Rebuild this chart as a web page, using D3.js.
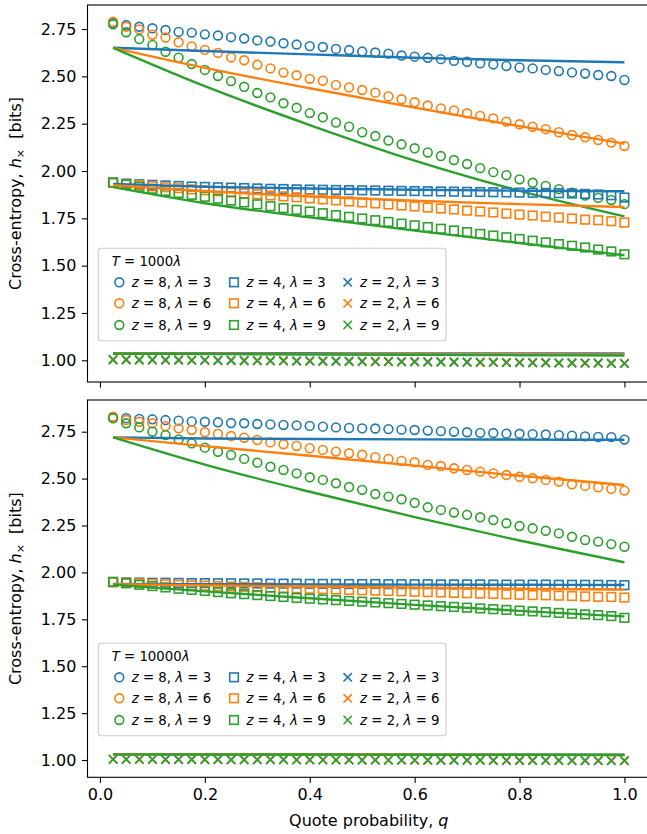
<!DOCTYPE html>
<html>
<head>
<meta charset="utf-8">
<script src="https://cdn.jsdelivr.net/npm/d3@7"></script>
<style>
body { margin: 0; background: #fff; }
text { font-family: "DejaVu Sans", sans-serif; fill: #000; }
</style>
</head>
<body>
<svg id="chart" width="647" height="834"></svg>
<script>
// quote probabilities of the simulated points
const q = [0.025, 0.05, 0.075, 0.1, 0.125, 0.15, 0.175, 0.2, 0.225, 0.25,
    0.275, 0.3, 0.325, 0.35, 0.375, 0.4, 0.425, 0.45, 0.475, 0.5,
    0.525, 0.55, 0.575, 0.6, 0.625, 0.65, 0.675, 0.7, 0.725, 0.75,
    0.775, 0.8, 0.825, 0.85, 0.875, 0.9, 0.925, 0.95, 0.975, 1.0];
// q where the theory curves were read
const lineQ = [0.025, 0.2, 0.4, 0.6, 0.8, 1.0];

const zValues = [8, 4, 2];
const lambdas = [3, 6, 9];
const colors = ['#1f77b4', '#ff7f0e', '#2ca02c'];
const xTicks = [0, 0.2, 0.4, 0.6, 0.8, 1.0];
const yTicks = [1.0, 1.25, 1.5, 1.75, 2.0, 2.25, 2.5, 2.75];

// ---- T = 1000 lambda ----
const t1000Z8 = [
    [2.781, 2.771, 2.762, 2.754, 2.745, 2.735, 2.731, 2.722, 2.716, 2.707, 2.700, 2.690, 2.684, 2.675, 2.668, 2.660, 2.655, 2.645, 2.639, 2.631,
     2.626, 2.620, 2.610, 2.604, 2.598, 2.591, 2.582, 2.577, 2.569, 2.563, 2.555, 2.547, 2.542, 2.534, 2.528, 2.521, 2.515, 2.507, 2.502, 2.481],
    [2.789, 2.762, 2.748, 2.720, 2.705, 2.680, 2.658, 2.640, 2.624, 2.600, 2.585, 2.561, 2.542, 2.520, 2.506, 2.487, 2.477, 2.455, 2.442, 2.428,
     2.414, 2.394, 2.379, 2.363, 2.346, 2.331, 2.320, 2.305, 2.291, 2.278, 2.261, 2.247, 2.234, 2.221, 2.205, 2.190, 2.178, 2.164, 2.150, 2.132],
    [2.775, 2.733, 2.697, 2.666, 2.630, 2.599, 2.565, 2.534, 2.502, 2.475, 2.445, 2.412, 2.389, 2.358, 2.334, 2.306, 2.284, 2.256, 2.234, 2.205,
     2.185, 2.161, 2.141, 2.120, 2.098, 2.079, 2.058, 2.037, 2.015, 1.994, 1.978, 1.956, 1.938, 1.921, 1.904, 1.886, 1.870, 1.858, 1.847, 1.825]
];
const t1000Z4 = [
    [1.938, 1.934, 1.930, 1.927, 1.924, 1.921, 1.918, 1.916, 1.914, 1.912, 1.910, 1.908, 1.906, 1.905, 1.903, 1.902, 1.901, 1.900, 1.899, 1.898,
     1.897, 1.896, 1.895, 1.894, 1.893, 1.892, 1.891, 1.890, 1.889, 1.888, 1.887, 1.886, 1.885, 1.884, 1.883, 1.881, 1.879, 1.876, 1.872, 1.860],
    [1.937, 1.930, 1.925, 1.919, 1.914, 1.909, 1.903, 1.898, 1.893, 1.887, 1.882, 1.877, 1.871, 1.866, 1.861, 1.855, 1.850, 1.845, 1.839, 1.834,
     1.829, 1.823, 1.818, 1.813, 1.807, 1.802, 1.797, 1.791, 1.786, 1.781, 1.775, 1.770, 1.765, 1.759, 1.754, 1.749, 1.743, 1.740, 1.735, 1.728],
    [1.940, 1.928, 1.917, 1.906, 1.895, 1.884, 1.874, 1.864, 1.854, 1.844, 1.834, 1.824, 1.814, 1.804, 1.795, 1.786, 1.777, 1.767, 1.758, 1.749,
     1.740, 1.731, 1.722, 1.713, 1.704, 1.695, 1.686, 1.677, 1.668, 1.659, 1.650, 1.641, 1.632, 1.623, 1.614, 1.605, 1.596, 1.585, 1.575, 1.560]
];
const t1000Z2 = [
    [1.005, 1.005, 1.004, 1.004, 1.003, 1.003, 1.002, 1.002, 1.001, 1.001, 1.000, 1.000, 0.999, 0.999, 0.998, 0.998, 0.997, 0.997, 0.996, 0.996,
     0.995, 0.995, 0.994, 0.994, 0.993, 0.993, 0.992, 0.992, 0.991, 0.991, 0.990, 0.990, 0.989, 0.989, 0.988, 0.988, 0.987, 0.987, 0.986, 0.985],
    [1.003, 1.003, 1.002, 1.002, 1.001, 1.001, 1.000, 1.000, 0.999, 0.999, 0.998, 0.998, 0.997, 0.997, 0.996, 0.996, 0.995, 0.995, 0.994, 0.994,
     0.993, 0.993, 0.992, 0.992, 0.991, 0.991, 0.990, 0.990, 0.989, 0.989, 0.988, 0.988, 0.987, 0.987, 0.986, 0.986, 0.985, 0.985, 0.984, 0.984],
    [1.002, 1.002, 1.001, 1.001, 1.000, 1.000, 0.999, 0.999, 0.998, 0.998, 0.997, 0.997, 0.996, 0.996, 0.995, 0.995, 0.994, 0.994, 0.993, 0.993,
     0.992, 0.992, 0.991, 0.991, 0.990, 0.990, 0.989, 0.989, 0.988, 0.988, 0.987, 0.987, 0.986, 0.986, 0.985, 0.985, 0.984, 0.984, 0.983, 0.983]
];
const t1000Z8Theory = [
    [2.651, 2.634, 2.616, 2.598, 2.585, 2.574],
    [2.651, 2.545, 2.437, 2.335, 2.237, 2.145],
    [2.651, 2.448, 2.243, 2.055, 1.895, 1.760]
];
const t1000Z4Theory = [
    [1.932, 1.917, 1.908, 1.901, 1.896, 1.893],
    [1.925, 1.893, 1.865, 1.843, 1.825, 1.810],
    [1.915, 1.830, 1.755, 1.685, 1.620, 1.555]
];
const t1000Z2Theory = [
    [1.037, 1.037, 1.037, 1.036, 1.036, 1.036],
    [1.036, 1.035, 1.034, 1.033, 1.032, 1.031],
    [1.035, 1.033, 1.031, 1.029, 1.027, 1.025]
];

// ---- T = 10000 lambda ----
const t10000Z8 = [
    [2.827, 2.822, 2.818, 2.816, 2.812, 2.809, 2.805, 2.803, 2.800, 2.796, 2.795, 2.791, 2.789, 2.786, 2.784, 2.781, 2.777, 2.773, 2.770, 2.768,
     2.767, 2.764, 2.761, 2.759, 2.756, 2.753, 2.750, 2.747, 2.744, 2.743, 2.740, 2.739, 2.737, 2.735, 2.732, 2.729, 2.725, 2.722, 2.721, 2.708],
    [2.830, 2.812, 2.803, 2.795, 2.780, 2.768, 2.759, 2.747, 2.738, 2.727, 2.718, 2.706, 2.693, 2.683, 2.674, 2.662, 2.653, 2.644, 2.635, 2.627,
     2.614, 2.605, 2.594, 2.587, 2.573, 2.567, 2.555, 2.546, 2.537, 2.528, 2.519, 2.510, 2.502, 2.493, 2.484, 2.470, 2.461, 2.454, 2.445, 2.436],
    [2.821, 2.795, 2.773, 2.750, 2.732, 2.709, 2.688, 2.665, 2.643, 2.626, 2.605, 2.585, 2.563, 2.546, 2.528, 2.507, 2.493, 2.475, 2.455, 2.440,
     2.418, 2.404, 2.390, 2.371, 2.347, 2.333, 2.319, 2.307, 2.294, 2.279, 2.262, 2.247, 2.235, 2.222, 2.208, 2.190, 2.173, 2.164, 2.151, 2.137]
];
const t10000Z4 = [
    [1.948, 1.947, 1.946, 1.945, 1.945, 1.944, 1.943, 1.943, 1.942, 1.942, 1.941, 1.941, 1.940, 1.940, 1.940, 1.939, 1.939, 1.939, 1.938, 1.938,
     1.938, 1.937, 1.937, 1.937, 1.937, 1.936, 1.936, 1.936, 1.936, 1.935, 1.935, 1.935, 1.935, 1.935, 1.934, 1.934, 1.934, 1.934, 1.933, 1.932],
    [1.948, 1.945, 1.942, 1.939, 1.936, 1.934, 1.931, 1.929, 1.927, 1.925, 1.923, 1.921, 1.919, 1.917, 1.915, 1.913, 1.911, 1.909, 1.907, 1.905,
     1.903, 1.901, 1.899, 1.897, 1.895, 1.893, 1.891, 1.889, 1.887, 1.885, 1.883, 1.881, 1.879, 1.878, 1.876, 1.874, 1.872, 1.870, 1.869, 1.866],
    [1.950, 1.942, 1.934, 1.927, 1.920, 1.913, 1.907, 1.901, 1.895, 1.889, 1.884, 1.879, 1.874, 1.869, 1.864, 1.860, 1.856, 1.852, 1.848, 1.844,
     1.840, 1.836, 1.832, 1.828, 1.824, 1.820, 1.816, 1.812, 1.808, 1.804, 1.800, 1.796, 1.792, 1.788, 1.784, 1.780, 1.776, 1.772, 1.767, 1.758]
];
const t10000Z2 = [
    [1.004, 1.004, 1.004, 1.004, 1.003, 1.003, 1.003, 1.003, 1.003, 1.002, 1.002, 1.002, 1.002, 1.002, 1.001, 1.001, 1.001, 1.001, 1.001, 1.000,
     1.000, 1.000, 1.000, 1.000, 0.999, 0.999, 0.999, 0.999, 0.999, 0.999, 0.998, 0.998, 0.998, 0.998, 0.998, 0.998, 0.998, 0.997, 0.997, 0.997],
    [1.004, 1.004, 1.003, 1.003, 1.003, 1.003, 1.003, 1.002, 1.002, 1.002, 1.002, 1.002, 1.001, 1.001, 1.001, 1.001, 1.001, 1.000, 1.000, 1.000,
     1.000, 1.000, 0.999, 0.999, 0.999, 0.999, 0.999, 0.998, 0.998, 0.998, 0.998, 0.998, 0.998, 0.997, 0.997, 0.997, 0.997, 0.997, 0.997, 0.996],
    [1.003, 1.003, 1.003, 1.003, 1.002, 1.002, 1.002, 1.002, 1.002, 1.001, 1.001, 1.001, 1.001, 1.001, 1.000, 1.000, 1.000, 1.000, 1.000, 0.999,
     0.999, 0.999, 0.999, 0.999, 0.998, 0.998, 0.998, 0.998, 0.998, 0.997, 0.997, 0.997, 0.997, 0.997, 0.997, 0.996, 0.996, 0.996, 0.996, 0.996]
];
const t10000Z8Theory = [
    [2.720, 2.714, 2.711, 2.709, 2.708, 2.707],
    [2.720, 2.673, 2.622, 2.569, 2.515, 2.466],
    [2.720, 2.575, 2.430, 2.295, 2.170, 2.054]
];
const t10000Z4Theory = [
    [1.938, 1.937, 1.936, 1.935, 1.934, 1.933],
    [1.937, 1.931, 1.925, 1.919, 1.913, 1.908],
    [1.935, 1.899, 1.862, 1.827, 1.795, 1.765]
];
const t10000Z2Theory = [
    [1.030, 1.030, 1.029, 1.029, 1.028, 1.028],
    [1.030, 1.030, 1.029, 1.029, 1.028, 1.027],
    [1.030, 1.029, 1.029, 1.028, 1.028, 1.027]
];

const panels = [
    {
        title: '1000', top: 5, bottom: 382, yDomain: [0.8854, 2.877], tickLabels: false, legendTop: 248.3,
        points: [t1000Z8, t1000Z4, t1000Z2], theory: [t1000Z8Theory, t1000Z4Theory, t1000Z2Theory]
    },
    {
        title: '10000', top: 400, bottom: 777.3, yDomain: [0.9078, 2.919], tickLabels: true, legendTop: 643.3,
        points: [t10000Z8, t10000Z4, t10000Z2], theory: [t10000Z8Theory, t10000Z4Theory, t10000Z2Theory]
    }
];

const markerTypes = ['circle', 'square', 'cross'];
const svg = d3.select('#chart');
const left = 87.5, right = 650;
const x = d3.scaleLinear().domain([-0.02375, 1.04875]).range([left, right]);

function appendMarker(g, type, color) {
    if (type === 'circle') {
        g.append('circle').attr('r', 4.4);
    } else if (type === 'square') {
        g.append('rect').attr('x', -4.3).attr('y', -4.3).attr('width', 8.6).attr('height', 8.6);
    } else {
        g.append('path').attr('d', 'M-4.2,-4.2L4.2,4.2M-4.2,4.2L4.2,-4.2');
    }
    g.selectAll('*')
        .attr('fill', 'none')
        .attr('stroke', color)
        .attr('stroke-width', 1.6);
}

function mathLabel(textSel, parts) {
    parts.forEach(p => {
        textSel.append('tspan')
            .attr('font-style', p[1] ? 'italic' : 'normal')
            .text(p[0]);
    });
}

function drawPanel(p) {
    const y = d3.scaleLinear().domain(p.yDomain).range([p.bottom, p.top]);
    const g = svg.append('g');

    g.append('defs').append('clipPath').attr('id', 'clip' + p.title)
        .append('rect').attr('x', left).attr('y', p.top).attr('width', right - left).attr('height', p.bottom - p.top);

    const plot = g.append('g').attr('clip-path', 'url(#clip' + p.title + ')');
    const line = d3.line()
        .x((d, i) => x(lineQ[i]))
        .y(d => y(d))
        .curve(d3.curveMonotoneX);

    p.points.forEach((group, zi) => {
        group.forEach((vals, li) => {
            plot.append('g')
                .selectAll('g')
                .data(vals)
                .join('g')
                .attr('transform', (d, i) => 'translate(' + x(q[i]) + ',' + y(d) + ')')
                .each(function() { appendMarker(d3.select(this), markerTypes[zi], colors[li]); });
        });
        p.theory[zi].forEach((vals, li) => {
            plot.append('path')
                .datum(vals)
                .attr('d', line)
                .attr('fill', 'none')
                .attr('stroke', colors[li])
                .attr('stroke-width', 2.4);
        });
    });

    // axes
    const yAxis = g.append('g')
        .attr('transform', 'translate(' + left + ',0)')
        .call(d3.axisLeft(y).tickValues(yTicks).tickFormat(d3.format('.2f')).tickSize(5.6).tickPadding(5.6));
    const xAxis = g.append('g')
        .attr('transform', 'translate(0,' + p.bottom + ')')
        .call(d3.axisBottom(x).tickValues(xTicks).tickFormat(p.tickLabels ? d3.format('.1f') : '').tickSize(5.6).tickPadding(5.6));
    [yAxis, xAxis].forEach(a => {
        a.select('.domain').remove();
        a.selectAll('line').attr('stroke', '#000').attr('stroke-width', 1.1);
        a.selectAll('text').attr('font-size', 16).attr('font-family', '"DejaVu Sans", sans-serif').attr('fill', '#000');
    });

    g.append('rect')
        .attr('x', left).attr('y', p.top)
        .attr('width', right - left).attr('height', p.bottom - p.top)
        .attr('fill', 'none').attr('stroke', '#000').attr('stroke-width', 1.1);

    const yl = g.append('text')
        .attr('transform', 'translate(21,' + ((p.top + p.bottom) / 2) + ') rotate(-90)')
        .attr('text-anchor', 'middle')
        .attr('font-size', 16);
    yl.append('tspan').text('Cross-entropy, ');
    yl.append('tspan').attr('font-style', 'italic').text('h');
    yl.append('tspan').attr('font-size', 11).attr('dy', 3).text('\u00d7');
    yl.append('tspan').attr('dy', -3).text('\u00a0 [bits]');

    drawLegend(p);
}

function drawLegend(p) {
    const lg = svg.append('g').attr('transform', 'translate(98.3,' + p.legendTop + ')');
    lg.append('rect')
        .attr('width', 347.7).attr('height', 92.4)
        .attr('rx', 3)
        .attr('fill', '#fff').attr('fill-opacity', 0.8)
        .attr('stroke', '#cccccc').attr('stroke-width', 1.1);

    const title = lg.append('text').attr('x', 13.4).attr('y', 17.7).attr('font-size', 13.3);
    mathLabel(title, [['T', true], [' = ' + p.title, false], ['\u03bb', true]]);

    const colX = [21, 135.7, 249.4];
    const rowY = [34, 55, 76.7];
    zValues.forEach((z, zi) => {
        lambdas.forEach((lam, li) => {
            const item = lg.append('g').attr('transform', 'translate(' + colX[zi] + ',' + rowY[li] + ')');
            appendMarker(item.append('g'), markerTypes[zi], colors[li]);
            const t = item.append('text').attr('x', 12.4).attr('y', 4.8).attr('font-size', 13.3);
            mathLabel(t, [['z', true], [' = ' + z + ', ', false], ['\u03bb', true], [' = ' + lam, false]]);
        });
    });
}

panels.forEach(drawPanel);

const xl = svg.append('text')
    .attr('x', (left + right) / 2).attr('y', 826)
    .attr('text-anchor', 'middle')
    .attr('font-size', 16);
mathLabel(xl, [['Quote probability, ', false], ['q', true]]);
</script>
</body>
</html>
